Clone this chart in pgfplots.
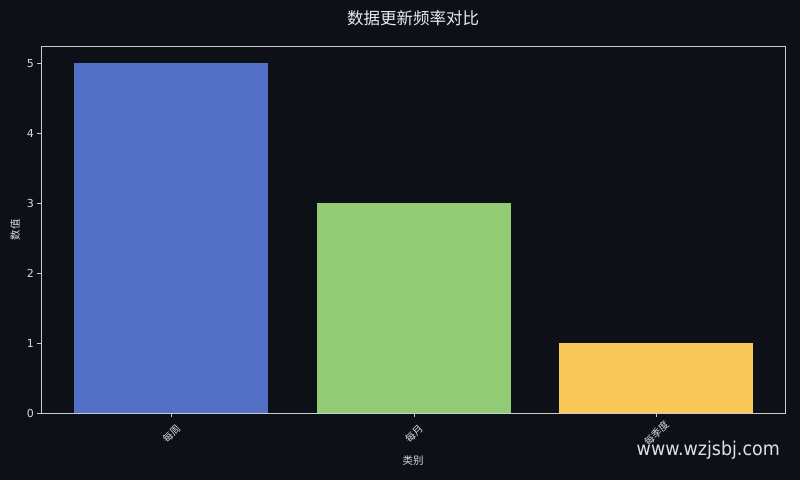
\documentclass[border=0pt]{standalone}
\usepackage{pgfplots}
\pgfplotsset{compat=1.18}
\usepackage{fontspec}
\setmainfont{DejaVu Sans}
\newfontfamily\cjk{Noto Sans CJK SC}
\definecolor{bg}{HTML}{0D1117}
\definecolor{axc}{HTML}{C9CDD3}
\definecolor{txt}{HTML}{D6D9DE}
\definecolor{cblue}{HTML}{5470C6}
\definecolor{cgreen}{HTML}{91CC75}
\definecolor{cyellow}{HTML}{FAC858}
\begin{document}
\begin{tikzpicture}
\fill[bg] (0,0) rectangle (800pt,480pt);
\begin{axis}[
  at={(41pt,67pt)}, anchor=south west,
  scale only axis, width=744pt, height=367pt,
  xmin=-0.538, xmax=2.53, ymin=0, ymax=5.25,
  xtick={0,1,2}, xticklabels={每周,每月,每季度},
  ytick={0,1,2,3,4,5},
  tick pos=left, tick align=outside, major tick length=3.5pt,
  axis line style={color=axc, line width=0.8pt},
  tick style={color=axc, line width=0.8pt},
  /pgf/number format/assume math mode=true,
  yticklabel style={font=\fontsize{11}{13}\selectfont, text=txt},
  xticklabel style={font=\cjk\fontsize{10}{12}\selectfont, text=txt,
    yshift=-17pt, rotate=45, anchor=center},
  xlabel={类别}, ylabel={数值},
  xlabel style={font=\cjk\fontsize{10.5}{12}\selectfont, text=txt,
    at={(axis description cs:0.5,-0.1308)}, anchor=center},
  ylabel style={font=\cjk\fontsize{10.5}{12}\selectfont, text=txt,
    at={(axis description cs:-0.0349,0.5)}, anchor=center},
  title={数据更新频率对比},
  title style={font=\cjk\fontsize{16.5}{18}\selectfont, text=white!92!black,
    at={(axis description cs:0.5,1.06)}, anchor=center},
  ybar, bar width=0.8,
]
\addplot[fill=cblue, draw=none, bar shift=0pt] coordinates {(0,5)};
\addplot[fill=cgreen, draw=none, bar shift=0pt] coordinates {(1,3)};
\addplot[fill=cyellow, draw=none, bar shift=0pt] coordinates {(2,1)};
\end{axis}
\node[anchor=base east, text=white!88!black, font=\fontsize{19}{19}\selectfont,
  xscale=0.92, inner sep=0pt] at (780pt,25pt) {www.wzjsbj.com};
\end{tikzpicture}
\end{document}
